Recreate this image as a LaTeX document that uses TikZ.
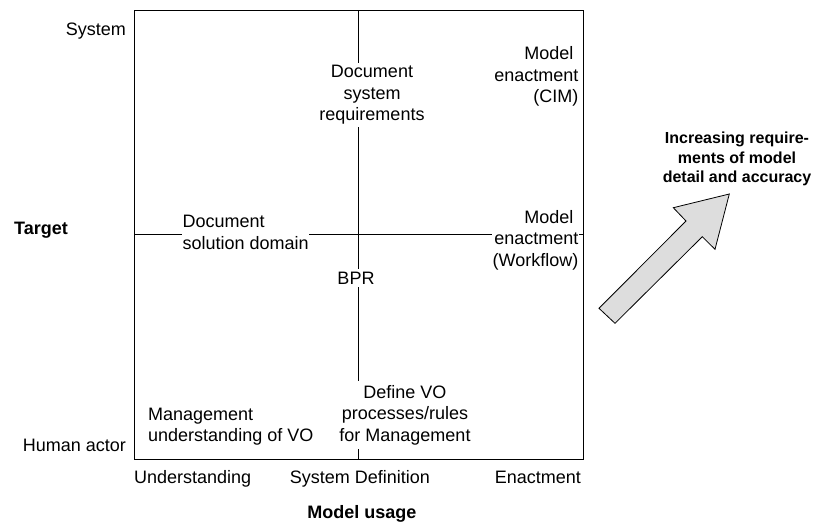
\documentclass[tikz,border=0pt]{standalone}
\usepackage{fontspec}
\setmainfont{Liberation Sans}
\definecolor{arrowgray}{RGB}{221,221,221}
\begin{document}
\begin{tikzpicture}[x=1pt,y=-1pt,
  lbl/.style={inner sep=0pt, font=\fontsize{18}{21.5}\selectfont},
  cover/.style={lbl, fill=white, inner xsep=0.5pt, inner ysep=2.5pt},
  axislbl/.style={inner sep=0pt, font=\bfseries\fontsize{18}{21.5}\selectfont},
  frame/.style={line width=1pt},
  bigarrow/.style={draw, line width=0.8pt, fill=arrowgray, line join=miter}]

\useasboundingbox (0,0) rectangle (813,522);

% grid frame and the two dividing axes
\coordinate (tl) at (134,10);
\coordinate (br) at (583,459);
\coordinate (topmid) at (358.5,10);
\coordinate (botmid) at (358.5,459);
\coordinate (leftmid) at (134,234);
\coordinate (rightmid) at (583,234);
\draw[frame] (tl) rectangle (br);
\draw[frame] (topmid) -- (botmid);
\draw[frame] (leftmid) -- (rightmid);

% quadrant labels (white boxes break the axes)
\node[cover, align=center] (dsr) at (372,95) {Document\\system\\requirements};
\node[lbl, align=right, anchor=east] (mecim) at (578.5,76.5) {Model\kern5pt\\enactment\\(CIM)};
\node[cover, align=left, anchor=west] (dsd) at (182,232.5) {Document\\solution domain};
\node[cover, align=right, anchor=east] (mewf) at (579,240.3) {Model\kern5pt\\enactment\\(Workflow)};
\node[cover, inner ysep=3pt] (bpr) at (356,278) {BPR};
\node[cover, align=center, inner ysep=4pt] (dvo) at (405,415) {Define VO\\processes/rules\\for Management};
\node[lbl, align=left, anchor=west] (muv) at (148,426.7) {Management\\understanding of VO};

% vertical axis: target
\node[lbl, anchor=east] (sys) at (126,30.8) {System};
\node[axislbl, anchor=west] (target) at (14,230) {Target};
\node[lbl, anchor=east] (human) at (126,445) {Human actor};

% horizontal axis: model usage
\node[lbl, anchor=west] (und) at (134,478.7) {Understanding};
\node[lbl] (sysdef) at (360,479) {System Definition};
\node[lbl, anchor=east] (enact) at (581,477.3) {Enactment};
\node[axislbl] (usage) at (362,513.5) {Model usage};

% trend arrow with its caption
\draw[bigarrow] (729.3,194) -- (715,249.3) -- (702.3,236.7) -- (615,323.3)
  -- (599,308.3) -- (686,221) -- (673.3,207.7) -- cycle;
\node[inner sep=0pt, align=center, font=\bfseries\fontsize{16}{19.5}\selectfont] (trend) at (737,159)
  {Increasing require-\\ments of model\\detail and accuracy};
\end{tikzpicture}
\end{document}
